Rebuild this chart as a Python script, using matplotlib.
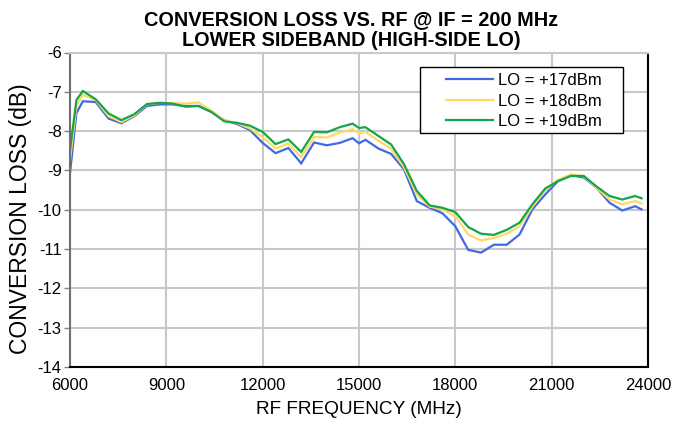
import matplotlib
matplotlib.use("Agg")
import matplotlib.pyplot as plt
from matplotlib.patches import Rectangle

plt.rcParams['font.family'] = ['Liberation Sans', 'DejaVu Sans']

freq = [6000, 6200, 6400, 6800, 7200, 7600, 8000, 8400, 8800, 9200, 9600, 10000,
        10400, 10800, 11200, 11600, 12000, 12400, 12800, 13200, 13600, 14000, 14400,
        14800, 15000, 15200, 15600, 16000, 16400, 16800, 17200, 17600, 18000, 18400,
        18800, 19200, 19600, 20000, 20400, 20800, 21200, 21600, 22000, 22400, 22800,
        23200, 23600, 23800]

lo17 = [-9.07, -7.54, -7.24, -7.26, -7.68, -7.80, -7.62, -7.36, -7.32, -7.32, -7.36, -7.36,
        -7.51, -7.72, -7.82, -7.97, -8.30, -8.56, -8.43, -8.82, -8.29, -8.36, -8.30,
        -8.18, -8.31, -8.22, -8.44, -8.58, -8.97, -9.78, -9.95, -10.09, -10.42, -11.02,
        -11.09, -10.89, -10.89, -10.63, -9.99, -9.61, -9.27, -9.12, -9.18, -9.44, -9.82,
        -10.02, -9.91, -9.99]

lo18 = [-8.74, -7.34, -7.08, -7.21, -7.62, -7.77, -7.60, -7.32, -7.28, -7.29, -7.30, -7.27,
        -7.48, -7.72, -7.80, -7.93, -8.15, -8.44, -8.32, -8.66, -8.15, -8.16, -8.04,
        -7.95, -8.06, -8.02, -8.24, -8.45, -8.92, -9.61, -9.92, -9.99, -10.16, -10.63,
        -10.78, -10.72, -10.61, -10.42, -9.92, -9.50, -9.24, -9.10, -9.15, -9.44, -9.74,
        -9.86, -9.78, -9.84]

lo19 = [-8.49, -7.21, -6.98, -7.19, -7.55, -7.72, -7.57, -7.31, -7.28, -7.30, -7.38, -7.36,
        -7.51, -7.75, -7.79, -7.86, -8.02, -8.33, -8.21, -8.53, -8.02, -8.03, -7.90,
        -7.81, -7.92, -7.90, -8.12, -8.34, -8.84, -9.52, -9.89, -9.95, -10.06, -10.44,
        -10.61, -10.64, -10.51, -10.33, -9.86, -9.46, -9.27, -9.14, -9.14, -9.41, -9.65,
        -9.74, -9.65, -9.71]

series_labels = ['LO = +17dBm', 'LO = +18dBm', 'LO = +19dBm']
series_colors = ['#4169e1', '#ffd966', '#13a64a']

x_ticks = [6000, 9000, 12000, 15000, 18000, 21000, 24000]
y_ticks = [-14, -13, -12, -11, -10, -9, -8, -7, -6]

W, H = 675, 428
AX_L, AX_R, AX_T, AX_B = 70, 648, 52.5, 367
fig = plt.figure(figsize=(W / 100, H / 100), dpi=100)
ax = fig.add_axes([AX_L / W, 1 - AX_B / H, (AX_R - AX_L) / W, (AX_B - AX_T) / H])


def ax_coords(px, py):
    return (px - AX_L) / (AX_R - AX_L), (AX_B - py) / (AX_B - AX_T)


for ys, lab, col in zip([lo17, lo18, lo19], series_labels, series_colors):
    ax.plot(freq, ys, color=col, lw=1.6, label=lab, solid_joinstyle='miter')

ax.set_xlim(6000, 24000)
ax.set_ylim(-14, -6)
ax.set_xticks(x_ticks)
ax.set_yticks(y_ticks)
ax.set_xticklabels([str(v) for v in x_ticks], fontsize=12)
ax.set_yticklabels([str(v) for v in y_ticks], fontsize=12)
ax.tick_params(axis='x', length=0, pad=8)
ax.tick_params(axis='y', length=4, width=1, color='#808080', pad=2)
ax.grid(True, color='#c8c8c8', lw=1.5)
ax.set_axisbelow(True)

ax.spines['left'].set_color('#707070')
ax.spines['left'].set_linewidth(1.5)
ax.spines['bottom'].set_color('black')
ax.spines['bottom'].set_linewidth(1.5)
ax.spines['right'].set_color('black')
ax.spines['right'].set_linewidth(1.5)
ax.spines['top'].set_color('#c8c8c8')
ax.spines['top'].set_linewidth(1.5)

ax.set_xlabel('RF FREQUENCY (MHz)', fontsize=13.7, labelpad=6)
ax.set_ylabel('CONVERSION LOSS (dB)', fontsize=16.5)
ax.yaxis.set_label_coords(*ax_coords(31.5, 219))

fig.text(351 / W, 1 - 20 / H, 'CONVERSION LOSS VS. RF @ IF = 200 MHz',
         ha='center', va='center', fontsize=14.3, fontweight='bold')
fig.text(351 / W, 1 - 40 / H, 'LOWER SIDEBAND (HIGH-SIDE LO)',
         ha='center', va='center', fontsize=14.3, fontweight='bold')

# legend frame
x0, y0 = ax_coords(420, 133)
x1, y1 = ax_coords(623, 67)
ax.add_patch(Rectangle((x0, y0), x1 - x0, y1 - y0, transform=ax.transAxes,
                       facecolor='white', edgecolor='black', lw=1.0, zorder=4))
lx, ly = ax_coords(446, 73)
leg = ax.legend(loc='upper left', bbox_to_anchor=(lx, ly), borderaxespad=0,
                fontsize=12, frameon=False, handlelength=2.8,
                handletextpad=0.35, labelspacing=0.33, borderpad=0)
leg.set_zorder(5)

fig.savefig('out.png', dpi=100)
